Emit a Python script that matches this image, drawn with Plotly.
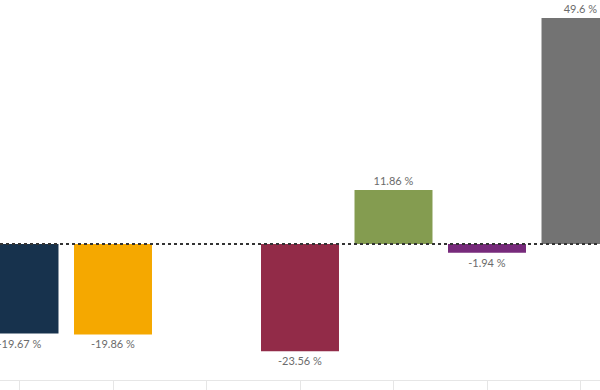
import plotly.graph_objects as go

categories = ["A", "B", "C", "D", "E", "F", "G"]
values = [-19.67, -19.86, None, -23.56, 11.86, -1.94, 49.6]
colors = ["#17324d", "#f5a800", "#cccccc", "#922b48", "#849c50", "#772a7b", "#737373"]
labels = [f"{v:g} %" if v is not None else "" for v in values]

fig = go.Figure()
fig.add_trace(go.Bar(
    x=categories, y=values,
    marker=dict(color=colors, line=dict(width=0)),
    width=0.834,
    text=labels, textposition="outside", cliponaxis=False,
    textfont=dict(family="Lato", size=11, color="#6b6b6b"),
    hoverinfo="skip",
))
fig.add_shape(type="line", xref="paper", x0=0, x1=1, yref="y", y0=0, y1=0,
              line=dict(color="#333333", width=2, dash="dot"), layer="above")
fig.update_layout(
    width=600, height=390,
    margin=dict(l=0, r=0, t=0, b=10, pad=0, autoexpand=False),
    paper_bgcolor="white", plot_bgcolor="white",
    showlegend=False,
    xaxis=dict(type="category", range=[-0.2086, 6.2086], showgrid=False, zeroline=False,
               showline=True, linecolor="#e6e6e6", linewidth=1, automargin=False,
               ticks="outside", ticklen=10, tickcolor="#e6e6e6", showticklabels=False),
    yaxis=dict(range=[-29.85, 53.55], showgrid=False, zeroline=False, showticklabels=False,
               showline=False, automargin=False),
)
fig.write_html("out.html", config={"displayModeBar": False},
               post_script="document.body.style.margin='0';document.body.style.overflow='hidden';")
